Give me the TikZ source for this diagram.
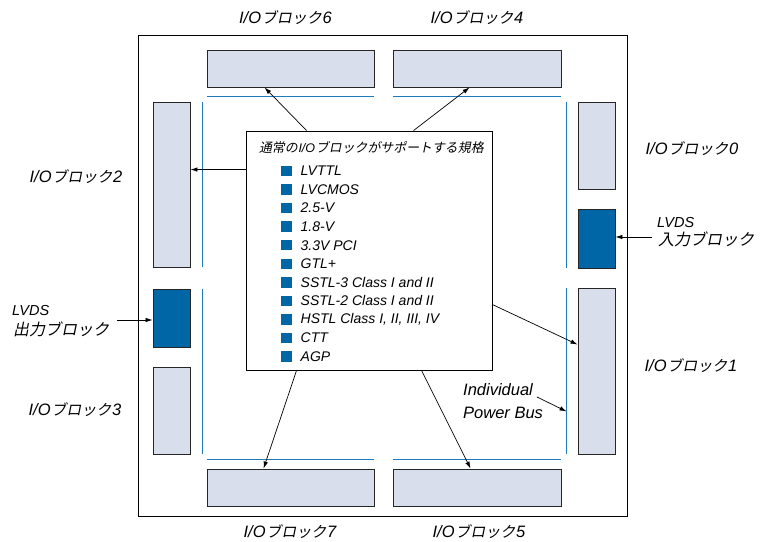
\documentclass[tikz,border=0pt]{standalone}
\usepackage{fontspec}
\setmainfont{Liberation Sans}
\newfontfamily\jp[FakeSlant=0.2]{Noto Sans CJK JP}
\usetikzlibrary{arrows.meta,calc}
\definecolor{blkfill}{RGB}{216,222,236}
\definecolor{dblue}{RGB}{0,102,166}
\definecolor{busc}{RGB}{30,122,190}
\newcommand\J[2][15]{\kern0.8pt{\fontsize{#1}{#1}\selectfont\jp #2}\kern0.8pt}
\newcommand\IOlbl[1]{I/O\J{ブロック}#1}
\begin{document}
\begin{tikzpicture}[x=1pt,y=-1pt,
  font=\fontsize{14}{16}\selectfont\itshape,
  blk/.style={draw=black!85, fill=blkfill, line width=0.9pt, inner sep=0pt},
  lvdsblk/.style={blk, fill=dblue},
  busline/.style={draw=busc, line width=1.1pt},
  arr/.style={-{Latex[length=7pt,width=4.5pt]}, line width=0.7pt},
  lbl/.style={inner sep=0pt, font=\fontsize{16.5}{18}\selectfont\itshape},
  sq/.style={fill=dblue, inner sep=0pt, minimum size=10.5pt}]
\useasboundingbox (0,0) rectangle (763,541);
% chip outline
\node[draw=black, line width=1pt, minimum width=489pt, minimum height=481pt, inner sep=0pt] (chip) at (382.5,275.5) {};
% top / bottom blocks
\node[blk, minimum width=167pt, minimum height=37pt] (b6) at (290.5,68.5) {};
\node[blk, minimum width=168pt, minimum height=37pt] (b4) at (477,68.5) {};
\node[blk, minimum width=167pt, minimum height=37pt] (b7) at (290.5,487.5) {};
\node[blk, minimum width=168pt, minimum height=37pt] (b5) at (477,487.5) {};
% left blocks
\node[blk, minimum width=37pt, minimum height=165pt] (b2) at (171.5,184.5) {};
\node[lvdsblk, minimum width=37pt, minimum height=58pt] (bo) at (171.5,318) {};
\node[blk, minimum width=37pt, minimum height=87pt] (b3) at (171.5,410.5) {};
% right blocks
\node[blk, minimum width=37pt, minimum height=87pt] (b0) at (596.5,145.5) {};
\node[lvdsblk, minimum width=37pt, minimum height=59pt] (bi) at (596.5,238.5) {};
\node[blk, minimum width=37pt, minimum height=166pt] (b1) at (596.5,371) {};
% power buses
\draw[busline] ($(b6.south west)+(0,9)$) -- ($(b6.south east)+(0,9)$);
\draw[busline] ($(b4.south west)+(0,9)$) -- ($(b4.south east)+(0,9)$);
\draw[busline] ($(b7.north west)+(0,-9)$) -- ($(b7.north east)+(0,-9)$);
\draw[busline] ($(b5.north west)+(0,-9)$) -- ($(b5.north east)+(0,-9)$);
\draw[busline] ($(b2.north east)+(12,0)$) -- ($(b2.south east)+(12,0)$);
\draw[busline] ($(bo.north east)+(12,0)$) -- ($(b3.south east)+(12,0)$);
\draw[busline] ($(b0.north west)+(-11,0)$) -- ($(bi.south west)+(-11,0)$);
\draw[busline] ($(b1.north west)+(-11,0)$) -- ($(b1.south west)+(-11,0)$);
% centre box
\node[draw=black, fill=white, line width=0.9pt, minimum width=246pt, minimum height=239pt, inner sep=0pt] (c) at (369,250.5) {};
\node[inner sep=0pt, anchor=west, font=\fontsize{12.5}{14}\selectfont\itshape] (title) at (258,147) {\J[12.9]{通常の}I/O\J[12.9]{ブロックがサポートする規格}};
\foreach \t [count=\i from 0] in {LVTTL, LVCMOS, 2.5-V, 1.8-V, 3.3V PCI, GTL+, SSTL-3 Class I and II, SSTL-2 Class I and II, {HSTL Class I, II, III, IV}, CTT, AGP} {
  \node[sq] (sq\i) at (286.5,{171+\i*18.55}) {};
  \node[inner sep=0pt, anchor=west] (it\i) at (300.5,{171+\i*18.55}) {\t};
}
% arrows from centre box
\draw[arr] ($(c.north west)+(61,0)$) -- ($(b6.south west)+(58,0)$);
\draw[arr] ($(c.north west)+(168,0)$) -- ($(b4.south west)+(77,0)$);
\draw[arr] ($(c.north west)+(0,39)$) -- ($(b2.north east)+(0,68)$);
\draw[arr] ($(c.north east)+(0,174)$) -- ($(b1.north west)+(0,57)$);
\draw[arr] ($(c.south west)+(51,0)$) -- ($(b7.north west)+(57,0)$);
\draw[arr] ($(c.south west)+(176,0)$) -- ($(b5.north west)+(78,0)$);
% labels
\node[lbl] (l6) at (285.5,18) {\IOlbl{6}};
\node[lbl] (l4) at (477,18) {\IOlbl{4}};
\node[lbl] (l7) at (290,532) {\IOlbl{7}};
\node[lbl] (l5) at (479,532) {\IOlbl{5}};
\node[lbl] (l2) at (76,177) {\IOlbl{2}};
\node[lbl] (l3) at (75,410) {\IOlbl{3}};
\node[lbl] (l0) at (692,149) {\IOlbl{0}};
\node[lbl] (l1) at (691,366) {\IOlbl{1}};
\node[inner sep=0pt, anchor=west, align=left, font=\fontsize{14.5}{20}\selectfont\itshape] (lout) at (12,321) {LVDS\\\J[16]{出力ブロック}};
\node[inner sep=0pt, anchor=west, align=left, font=\fontsize{14.5}{18}\selectfont\itshape] (lin) at (657,232) {LVDS\\\J[16]{入力ブロック}};
\node[inner sep=0pt, anchor=west, align=left, font=\fontsize{16.5}{23}\selectfont\itshape] (lpb) at (463,401.5) {Individual\\Power Bus};
% label arrows
\coordinate (lvo) at (117,320);
\draw[arr] (lvo) -- (lvo -| bo.west);
\coordinate (lvi) at (652,237);
\draw[arr] (lvi) -- (lvi -| bi.east);
\coordinate (pbs) at (537,397);
\draw[arr] (pbs) -- ($(b1.south west)+(-11,-43)$);
\end{tikzpicture}
\end{document}
